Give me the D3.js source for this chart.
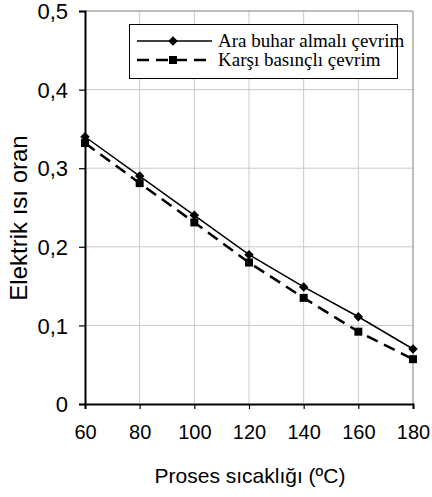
<!DOCTYPE html>
<html>
<head>
<meta charset="utf-8">
<script src="https://cdn.jsdelivr.net/npm/d3@7"></script>
<style>
  body { margin: 0; background: #fff; }
  svg { display: block; }
</style>
</head>
<body>
<div id="chart"></div>
<script>
// data
var temps = [60, 80, 100, 120, 140, 160, 180];
var araBuhar = [0.34, 0.29, 0.24, 0.19, 0.149, 0.111, 0.07];
var karsiBasinc = [0.332, 0.281, 0.231, 0.18, 0.135, 0.092, 0.057];
var xTicks = [60, 80, 100, 120, 140, 160, 180];
var yTicks = [0, 0.1, 0.2, 0.3, 0.4, 0.5];
var seriesNames = ["Ara buhar almalı çevrim", "Karşı basınçlı çevrim"];

var width = 432, height = 497;
var plotL = 85, plotR = 413, plotT = 11, plotB = 404;

var svg = d3.select("#chart").append("svg")
  .attr("width", width)
  .attr("height", height);

var x = d3.scaleLinear().domain([60, 180]).range([plotL, plotR]);
var y = d3.scaleLinear().domain([0, 0.5]).range([plotB, plotT]);

var fmt = function (d) { return d === 0 ? "0" : d3.format(".1f")(d).replace(".", ","); };

// grid
svg.append("g").selectAll("line")
  .data(xTicks.slice(1, -1))
  .enter().append("line")
  .attr("x1", function (d) { return x(d); })
  .attr("x2", function (d) { return x(d); })
  .attr("y1", plotT).attr("y2", plotB)
  .attr("stroke", "#c8c8c8").attr("stroke-width", 1);

svg.append("g").selectAll("line")
  .data(yTicks.slice(1, -1))
  .enter().append("line")
  .attr("x1", plotL).attr("x2", plotR)
  .attr("y1", function (d) { return y(d); })
  .attr("y2", function (d) { return y(d); })
  .attr("stroke", "#c8c8c8").attr("stroke-width", 1);

// frame top / right
svg.append("path")
  .attr("d", "M" + plotL + "," + plotT + "H" + plotR + "V" + plotB)
  .attr("fill", "none").attr("stroke", "#808080").attr("stroke-width", 1);

// axes
var xAxis = svg.append("g")
  .attr("transform", "translate(0," + plotB + ")")
  .call(d3.axisBottom(x).tickValues(xTicks).tickSize(5).tickPadding(16));
var yAxis = svg.append("g")
  .attr("transform", "translate(" + plotL + ",0)")
  .call(d3.axisLeft(y).tickValues(yTicks).tickFormat(fmt).tickSize(6).tickPadding(11));

[xAxis, yAxis].forEach(function (a) {
  a.select(".domain").attr("stroke", "#000").attr("stroke-width", 2);
  a.selectAll(".tick line").attr("stroke", "#000").attr("stroke-width", 1.2);
  a.selectAll("text")
    .attr("fill", "#000")
    .style("font-family", "Liberation Sans, Arial, sans-serif")
    .style("font-size", "20px");
});
yAxis.selectAll("text").attr("dy", "0.35em").style("font-size", "22px");

// axis titles
svg.append("text")
  .attr("x", 250).attr("y", 483)
  .attr("text-anchor", "middle")
  .style("font-family", "Liberation Sans, Arial, sans-serif")
  .style("font-size", "21px")
  .text("Proses sıcaklığı (ºC)");

svg.append("text")
  .attr("transform", "translate(27,218) rotate(-90)")
  .attr("text-anchor", "middle")
  .style("font-family", "Liberation Sans, Arial, sans-serif")
  .style("font-size", "24px")
  .text("Elektrik ısı oran");

// lines
var line = d3.line()
  .x(function (d, i) { return x(temps[i]); })
  .y(function (d) { return y(d); });

svg.append("path").datum(karsiBasinc)
  .attr("d", line)
  .attr("fill", "none").attr("stroke", "#000")
  .attr("stroke-width", 2.5).attr("stroke-dasharray", "12,7");

svg.append("path").datum(araBuhar)
  .attr("d", line)
  .attr("fill", "none").attr("stroke", "#000")
  .attr("stroke-width", 1.5);

var diamond = d3.symbol().type(d3.symbolSquare).size(45);
var square = d3.symbol().type(d3.symbolSquare).size(64);

svg.append("g").selectAll("path")
  .data(araBuhar)
  .enter().append("path")
  .attr("d", diamond)
  .attr("transform", function (d, i) { return "translate(" + x(temps[i]) + "," + y(d) + ") rotate(45)"; })
  .attr("fill", "#000");

svg.append("g").selectAll("path")
  .data(karsiBasinc)
  .enter().append("path")
  .attr("d", square)
  .attr("transform", function (d, i) { return "translate(" + x(temps[i]) + "," + y(d) + ")"; })
  .attr("fill", "#000");

// legend
var lg = svg.append("g");
lg.append("rect")
  .attr("x", 129.5).attr("y", 24.5)
  .attr("width", 268).attr("height", 54)
  .attr("fill", "#fff").attr("stroke", "#000").attr("stroke-width", 1);

var rows = [
  { name: seriesNames[0], dash: null, w: 1.5, sym: diamond, rot: 45 },
  { name: seriesNames[1], dash: "12,7", w: 2.5, sym: square, rot: 0 }
];
rows.forEach(function (r, i) {
  var cy = 41 + i * 19;
  lg.append("line")
    .attr("x1", 137).attr("x2", 212)
    .attr("y1", cy).attr("y2", cy)
    .attr("stroke", "#000").attr("stroke-width", r.w)
    .attr("stroke-dasharray", r.dash);
  lg.append("path")
    .attr("d", r.sym)
    .attr("transform", "translate(173," + cy + ") rotate(" + r.rot + ")");
  lg.append("text")
    .attr("x", 218).attr("y", cy + 6)
    .style("font-family", "Liberation Serif, Times New Roman, serif")
    .style("font-size", "19px")
    .text(r.name);
});
</script>
</body>
</html>
